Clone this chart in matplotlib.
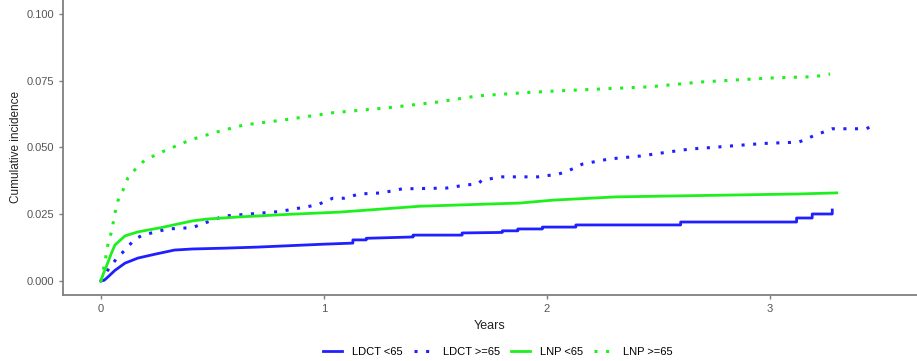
import matplotlib
matplotlib.use("Agg")
import matplotlib.pyplot as plt

plt.rcParams['font.family'] = ['Liberation Sans', 'DejaVu Sans']

# LDCT <65 (solid blue, step-like)
ldct_lt65_x = [0.0, 0.015, 0.031, 0.063, 0.108, 0.166, 0.24, 0.33, 0.41, 0.55, 0.70, 1.00, 1.13, 1.13, 1.19, 1.19, 1.40, 1.40, 1.62, 1.62, 1.80, 1.80, 1.87, 1.87, 1.98, 1.98, 2.13, 2.13, 2.60, 2.60, 3.12, 3.12, 3.19, 3.19, 3.28, 3.28]
ldct_lt65_y = [0.0, 0.0003, 0.0015, 0.0040, 0.0067, 0.0086, 0.0100, 0.0116, 0.0120, 0.0123, 0.0127, 0.0138, 0.0142, 0.0154, 0.0154, 0.0160, 0.0165, 0.0172, 0.0172, 0.0180, 0.0182, 0.0188, 0.0188, 0.0195, 0.0195, 0.0202, 0.0202, 0.0210, 0.0210, 0.0221, 0.0221, 0.0236, 0.0236, 0.0251, 0.0251, 0.0266]

# LDCT >=65 (dotted blue)
ldct_ge65_x = [0.0, 0.015, 0.031, 0.072, 0.108, 0.152, 0.188, 0.30, 0.41, 0.475, 0.55, 0.80, 0.97, 1.04, 1.09, 1.16, 1.26, 1.35, 1.55, 1.64, 1.69, 1.71, 1.80, 1.96, 2.05, 2.09, 2.16, 2.28, 2.42, 2.52, 2.64, 2.74, 2.97, 3.13, 3.20, 3.28, 3.43, 3.48]
ldct_ge65_y = [0.0, 0.0015, 0.0041, 0.0086, 0.0116, 0.0157, 0.0172, 0.0195, 0.0200, 0.0220, 0.0243, 0.0260, 0.0285, 0.0310, 0.0310, 0.0326, 0.0330, 0.0345, 0.0348, 0.0360, 0.0363, 0.0378, 0.0390, 0.0390, 0.0400, 0.0410, 0.0438, 0.0457, 0.0468, 0.0480, 0.0494, 0.0500, 0.0515, 0.0520, 0.0545, 0.0570, 0.0570, 0.0585]

# LNP <65 (solid green)
lnp_lt65_x = [0.0, 0.010, 0.027, 0.045, 0.063, 0.108, 0.166, 0.27, 0.41, 0.475, 0.62, 0.85, 1.07, 1.43, 1.73, 1.88, 2.03, 2.31, 3.13, 3.30]
lnp_lt65_y = [0.0, 0.0025, 0.0060, 0.0100, 0.0135, 0.0169, 0.0184, 0.0200, 0.0225, 0.0232, 0.0240, 0.0250, 0.0258, 0.0280, 0.0288, 0.0292, 0.0303, 0.0315, 0.0326, 0.0330]

# LNP >=65 (dotted green)
lnp_ge65_x = [0.0, 0.018, 0.031, 0.049, 0.063, 0.076, 0.099, 0.121, 0.152, 0.197, 0.265, 0.40, 0.52, 0.64, 0.82, 1.04, 1.28, 1.51, 1.69, 1.88, 2.03, 2.46, 2.69, 3.00, 3.20, 3.27]
lnp_ge65_y = [0.0, 0.0070, 0.0135, 0.0190, 0.0255, 0.0300, 0.0340, 0.0386, 0.0416, 0.0453, 0.0480, 0.0528, 0.0558, 0.0584, 0.0603, 0.0630, 0.0648, 0.0670, 0.0693, 0.0704, 0.0711, 0.0727, 0.0745, 0.0760, 0.0765, 0.0775]

x_ticks = [0, 1, 2, 3]
y_ticks = [0.000, 0.025, 0.050, 0.075, 0.100]
y_tick_labels = ["0.000", "0.025", "0.050", "0.075", "0.100"]
labels = ["LDCT <65", "LDCT >=65", "LNP <65", "LNP >=65"]

BLUE = "#1F1FFF"
GREEN = "#1EF01E"
DOTS = (0, (1, 2.8))

fig = plt.figure(figsize=(9.17, 3.61), dpi=100)
ax = fig.add_axes([0.0687, 0.183, 0.9313, 0.817])

ax.plot(ldct_lt65_x, ldct_lt65_y, color=BLUE, lw=2.0, label=labels[0])
ax.plot(ldct_ge65_x, ldct_ge65_y, color=BLUE, lw=2.2, linestyle=DOTS, label=labels[1])
ax.plot(lnp_lt65_x, lnp_lt65_y, color=GREEN, lw=2.0, label=labels[2])
ax.plot(lnp_ge65_x, lnp_ge65_y, color=GREEN, lw=2.2, linestyle=DOTS, label=labels[3])

ax.set_xlim(-0.17, 3.66)
ax.set_ylim(-0.0052, 0.1052)
ax.set_xticks(x_ticks)
ax.set_yticks(y_ticks)
ax.set_yticklabels(y_tick_labels)

for s in ['top', 'right']:
    ax.spines[s].set_visible(False)
for s in ['left', 'bottom']:
    ax.spines[s].set_color('#7F7F7F')
    ax.spines[s].set_linewidth(1.3)

ax.tick_params(axis='both', colors='#7F7F7F', labelcolor='#555555', labelsize=8, length=3, width=1)
ax.set_xlabel("Years", fontsize=9, color='#222222', labelpad=4)
ax.set_ylabel("Cumulative incidence", fontsize=8.5, color='#222222', labelpad=3)

handles, lbls = ax.get_legend_handles_labels()
fig.legend(handles, lbls, loc='center', bbox_to_anchor=(0.543, 0.025), ncol=4, frameon=False,
           fontsize=8, handlelength=1.7, columnspacing=1.0, handletextpad=0.9)

fig.savefig("out.png", dpi=100)
